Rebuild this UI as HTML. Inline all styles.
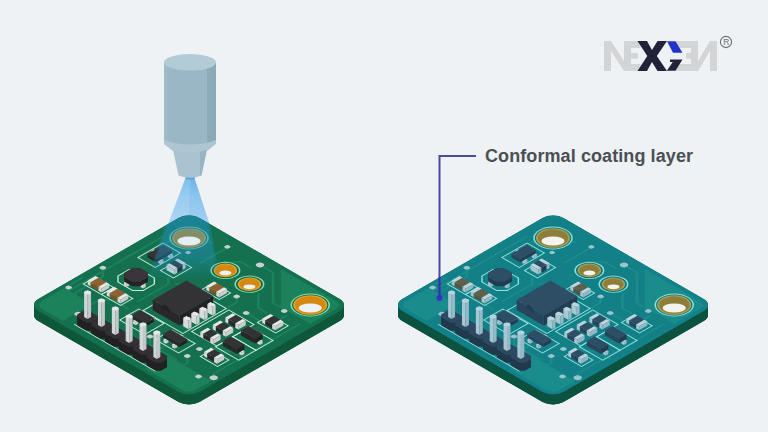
<!DOCTYPE html><html><head><meta charset="utf-8"><style>html,body{margin:0;padding:0;background:#eef2f5;}svg{display:block}</style></head>
<body><svg width="768" height="432" viewBox="0 0 768 432">
<rect width="768" height="432" fill="#eef2f5"/>

<defs>
<linearGradient id="spr" x1="0" y1="0" x2="0" y2="1">
<stop offset="0" stop-color="#6db5e8"/><stop offset="0.35" stop-color="#8cc5ee"/><stop offset="1" stop-color="#a6d2f2"/></linearGradient>
<linearGradient id="cyl" x1="0" y1="0" x2="1" y2="0">
<stop offset="0" stop-color="#a1bdcb"/><stop offset="0.1" stop-color="#9ab7c6"/><stop offset="0.83" stop-color="#9ab7c6"/><stop offset="0.835" stop-color="#8babb9"/><stop offset="1" stop-color="#89a9b7"/></linearGradient>
<linearGradient id="tap" x1="0" y1="0" x2="1" y2="0">
<stop offset="0" stop-color="#a9c4d0"/><stop offset="0.78" stop-color="#a9c4d0"/><stop offset="0.785" stop-color="#97b5c2"/><stop offset="1" stop-color="#97b5c2"/></linearGradient>
</defs>
<polygon points="185.5,178 194.5,178 211.5,230 165.8,230" fill="url(#spr)"/>
<polygon points="185.5,178 190,178 188.5,230 165.8,230" fill="#ffffff" opacity="0.12"/>
<rect x="185.5" y="177" width="9" height="2.5" fill="#5ca6de"/>
<path d="M164,62 L164,141 Q190,150 216,141 L216,62 Z" fill="url(#cyl)"/>
<path d="M164,140 Q190,149 216,140 L216,144 L207,151 Q190,157 173,151 L164,144 Z" fill="#adc6d2"/>
<path d="M173,150 Q190,155 207,150 L201.5,175.5 Q190,180 178.5,175.5 Z" fill="url(#tap)"/>
<ellipse cx="190" cy="62.3" rx="26" ry="8.3" fill="#b3cbd7"/>

<g transform="matrix(0.8660254,0.5,-0.8660254,0.5,189,212)" fill="#116240"><rect width="186" height="186" rx="12" transform="translate(0,0)"/><rect width="186" height="186" rx="12" transform="translate(1,1)"/><rect width="186" height="186" rx="12" transform="translate(2,2)"/><rect width="186" height="186" rx="12" transform="translate(3,3)"/><rect width="186" height="186" rx="12" transform="translate(4,4)"/><rect width="186" height="186" rx="12" transform="translate(5,5)"/><rect width="186" height="186" rx="12" transform="translate(6,6)"/><rect width="186" height="186" rx="12" transform="translate(7,7)"/><rect width="186" height="186" rx="12" transform="translate(8,8)"/><rect width="186" height="186" rx="12" transform="translate(9,9)"/><rect width="186" height="186" rx="12" transform="translate(10,10)"/></g><g transform="matrix(0.8660254,0.5,-0.8660254,0.5,189,212)" fill="#0e5739"><rect width="186" height="186" rx="12" transform="translate(5,5)"/><rect width="186" height="186" rx="12" transform="translate(6,6)"/><rect width="186" height="186" rx="12" transform="translate(7,7)"/><rect width="186" height="186" rx="12" transform="translate(8,8)"/><rect width="186" height="186" rx="12" transform="translate(9,9)"/><rect width="186" height="186" rx="12" transform="translate(10,10)"/></g><g transform="matrix(0.8660254,0.5,-0.8660254,0.5,189,212)"><rect width="186" height="186" rx="12" fill="#14714f"/><rect x="4" y="4" width="178" height="178" rx="9" fill="#14704f"/></g><g transform="matrix(0.8660254,0.5,-0.8660254,0.5,189,212)"><path d="M4,148 L36,148 L36,182 L13,182 Q4,182 4,173 Z" fill="#1c825b"/><path d="M132,156 L182,156 L182,173 Q182,182 173,182 L132,182 Z" fill="#1c825b"/><path d="M110,4 L173,4 Q182,4 182,13 L182,42 L148,42 Z" fill="#1c825b"/><path d="M9.5,40 L9.5,154 L22,167 L42,167" fill="none" stroke="#1c825b" stroke-width="2.2" stroke-linejoin="round" stroke-linecap="round"/><path d="M57.6,12.4 L57.6,44" fill="none" stroke="#1c825b" stroke-width="2.2" stroke-linejoin="round" stroke-linecap="round"/><path d="M94,12 L109,12 L139.5,42.5 L154,42.5" fill="none" stroke="#1c825b" stroke-width="2.2" stroke-linejoin="round" stroke-linecap="round"/><path d="M6,105.5 L15,114.5 L15,146 L22,153 L40,153" fill="none" stroke="#1c825b" stroke-width="2.2" stroke-linejoin="round" stroke-linecap="round"/><path d="M18,44 L18,30 L30,18 L44,18" fill="none" stroke="#1c825b" stroke-width="2.2" stroke-linejoin="round" stroke-linecap="round"/><path d="M112,57 L118,63 L118,76" fill="none" stroke="#1c825b" stroke-width="2.2" stroke-linejoin="round" stroke-linecap="round"/><path d="M134,68 L150,68 L160,58 L160,48" fill="none" stroke="#1c825b" stroke-width="2.2" stroke-linejoin="round" stroke-linecap="round"/><path d="M143,145 L150,152 L150,168" fill="none" stroke="#1c825b" stroke-width="2.2" stroke-linejoin="round" stroke-linecap="round"/><path d="M102,147 L110,155 L140,155" fill="none" stroke="#1c825b" stroke-width="2.2" stroke-linejoin="round" stroke-linecap="round"/><path d="M180,151.5 L176,147.5 L176,48" fill="none" stroke="#1c825b" stroke-width="2.2" stroke-linejoin="round" stroke-linecap="round"/><path d="M64,80 L70,74 L84,74" fill="none" stroke="#1c825b" stroke-width="2.2" stroke-linejoin="round" stroke-linecap="round"/><path d="M54,78 L60,84 L60,118" fill="none" stroke="#1c825b" stroke-width="2.2" stroke-linejoin="round" stroke-linecap="round"/><path d="M4,128 L4,140" fill="none" stroke="#1c825b" stroke-width="2.2" stroke-linejoin="round" stroke-linecap="round"/><path d="M36,150 L36,140 L44,132 L62,132" fill="none" stroke="#1c825b" stroke-width="2.2" stroke-linejoin="round" stroke-linecap="round"/><path d="M120,148 L120,160 L126,166 L146,166" fill="none" stroke="#1c825b" stroke-width="2.2" stroke-linejoin="round" stroke-linecap="round"/><path d="M148,122 L156,122 L164,114 L180,114" fill="none" stroke="#1c825b" stroke-width="2.2" stroke-linejoin="round" stroke-linecap="round"/><path d="M70,30 L80,20 L92,20" fill="none" stroke="#1c825b" stroke-width="2.2" stroke-linejoin="round" stroke-linecap="round"/><path d="M122,42 L136,56 L146,56" fill="none" stroke="#1c825b" stroke-width="2.2" stroke-linejoin="round" stroke-linecap="round"/></g><g transform="matrix(0.8660254,0.5,-0.8660254,0.5,189,212)"><g fill="none" stroke="#c6eed9" stroke-width="1.1"><rect x="16" y="46" width="20" height="29"/><rect x="42" y="54" width="15" height="21"/><polygon points="29,86 46,86 52,92 52,105 46,111 29,111 23,105 23,92"/><rect x="11" y="119" width="21" height="14"/><rect x="32" y="119" width="22" height="14"/><rect x="68" y="126" width="29" height="22"/><rect x="108" y="128" width="27" height="19"/><rect x="151" y="125" width="20" height="13"/><rect x="150" y="56.5" width="21" height="14.5"/><rect x="150" y="80" width="27" height="19.5"/><rect x="150" y="99.5" width="27" height="20.0"/><rect x="121" y="75" width="29" height="43"/><rect x="72" y="75" width="46" height="50"/><rect x="85" y="57" width="20" height="13"/><polyline points="46,178.6 140,178.6"/></g></g><g transform="matrix(0.8660254,0.5,-0.8660254,0.5,189,212)"><g fill="#c9d0d3"><circle cx="6" cy="105.5" r="2.6"/><circle cx="94" cy="12" r="3.3"/><circle cx="57" cy="12.7" r="2.4"/><circle cx="40" cy="41" r="2.2"/><circle cx="112" cy="57" r="2.6"/><circle cx="134" cy="68" r="2.6"/><circle cx="154" cy="44" r="2.6"/><circle cx="102" cy="147" r="2.6"/><circle cx="143" cy="131" r="2.6"/><circle cx="143" cy="145" r="2.6"/><circle cx="170" cy="159" r="2.6"/><circle cx="180" cy="151.5" r="3.3"/><circle cx="6" cy="145" r="2.6"/><circle cx="38" cy="166" r="3"/></g></g><g transform="matrix(0.8660254,0.5,-0.8660254,0.5,189,212)"><circle cx="26" cy="26" r="15.5" fill="#13633f" stroke="#86dcb6" stroke-width="1.3"/><circle cx="26" cy="26" r="13.9" fill="#e8a126"/><circle cx="26" cy="26" r="12.4" fill="#d48a12"/></g><g transform="matrix(0.8660254,0.5,-0.8660254,0.5,189,212)"><circle cx="163" cy="23" r="15.5" fill="#13633f" stroke="#86dcb6" stroke-width="1.3"/><circle cx="163" cy="23" r="13.9" fill="#e8a126"/><circle cx="163" cy="23" r="12.4" fill="#d48a12"/></g><ellipse cx="310.24" cy="308" rx="11.6" ry="4.6" fill="#eef2f5"/><g transform="matrix(0.8660254,0.5,-0.8660254,0.5,189,212)"><circle cx="79.4" cy="37.4" r="11.6" fill="#13633f" stroke="#86dcb6" stroke-width="1.3"/><circle cx="79.4" cy="37.4" r="9.6" fill="#e8a126"/><circle cx="79.4" cy="37.4" r="8.2" fill="#d48a12"/></g><ellipse cx="225.37" cy="273" rx="6" ry="2.4" fill="#eef2f5"/><g transform="matrix(0.8660254,0.5,-0.8660254,0.5,189,212)"><circle cx="107.1" cy="37.3" r="11.6" fill="#13633f" stroke="#86dcb6" stroke-width="1.3"/><circle cx="107.1" cy="37.3" r="9.6" fill="#e8a126"/><circle cx="107.1" cy="37.3" r="8.2" fill="#d48a12"/></g><ellipse cx="249.45" cy="286.8" rx="6" ry="2.4" fill="#eef2f5"/><polygon points="172.98,254.25 170.38,255.75 170.38,258.75 172.98,257.25" fill="#c9cdcd" /><polygon points="167.78,254.25 170.38,255.75 170.38,258.75 167.78,257.25" fill="#d8dbdb" /><polygon points="170.38,252.75 172.98,254.25 170.38,255.75 167.78,254.25" fill="#e6e8e8" /><polygon points="163.45,259.75 160.85,261.25 160.85,264.25 163.45,262.75" fill="#c9cdcd" /><polygon points="158.26,259.75 160.85,261.25 160.85,264.25 158.26,262.75" fill="#d8dbdb" /><polygon points="160.85,258.25 163.45,259.75 160.85,261.25 158.26,259.75" fill="#e6e8e8" /><polygon points="156.52,250.75 153.93,252.25 153.93,255.25 156.52,253.75" fill="#c9cdcd" /><polygon points="151.33,250.75 153.93,252.25 153.93,255.25 151.33,253.75" fill="#d8dbdb" /><polygon points="153.93,249.25 156.52,250.75 153.93,252.25 151.33,250.75" fill="#e6e8e8" /><polygon points="171.68,250 156.09,259 156.09,262.5 171.68,253.5" fill="#222225" /><polygon points="147.43,254 156.09,259 156.09,262.5 147.43,257.5" fill="#28282b" /><polygon points="163.02,245 171.68,250 156.09,259 147.43,254" fill="#333336" /><polygon points="185.54,263 182.5,264.75 182.5,269.75 185.54,268" fill="#c9cdcd" /><polygon points="174.71,260.25 182.5,264.75 182.5,269.75 174.71,265.25" fill="#d8dbdb" /><polygon points="177.74,258.5 185.54,263 182.5,264.75 174.71,260.25" fill="#e6e8e8" /><polygon points="182.5,264.75 177.31,267.75 177.31,272.75 182.5,269.75" fill="#222225" /><polygon points="169.51,263.25 177.31,267.75 177.31,272.75 169.51,268.25" fill="#28282b" /><polygon points="174.71,260.25 182.5,264.75 177.31,267.75 169.51,263.25" fill="#333336" /><polygon points="177.31,267.75 174.28,269.5 174.28,274.5 177.31,272.75" fill="#c9cdcd" /><polygon points="166.48,265 174.28,269.5 174.28,274.5 166.48,270" fill="#d8dbdb" /><polygon points="169.51,263.25 177.31,267.75 174.28,269.5 166.48,265" fill="#e6e8e8" /><polygon points="98.5,277.75 90.71,282.25 90.71,286.25 98.5,281.75" fill="#c9cdcd" /><polygon points="87.68,280.5 90.71,282.25 90.71,286.25 87.68,284.5" fill="#d8dbdb" /><polygon points="95.47,276 98.5,277.75 90.71,282.25 87.68,280.5" fill="#e6e8e8" /><polygon points="106.29,282.25 98.5,286.75 98.5,290.75 106.29,286.25" fill="#6e4a22" /><polygon points="90.71,282.25 98.5,286.75 98.5,290.75 90.71,286.25" fill="#7a5428" /><polygon points="98.5,277.75 106.29,282.25 98.5,286.75 90.71,282.25" fill="#8e6230" /><polygon points="109.33,284 101.53,288.5 101.53,292.5 109.33,288" fill="#c9cdcd" /><polygon points="98.5,286.75 101.53,288.5 101.53,292.5 98.5,290.75" fill="#d8dbdb" /><polygon points="106.29,282.25 109.33,284 101.53,288.5 98.5,286.75" fill="#e6e8e8" /><polygon points="145.7,283.5 143.1,285 143.1,288.5 145.7,287" fill="#c9cdcd" /><polygon points="140.5,283.5 143.1,285 143.1,288.5 140.5,287" fill="#d8dbdb" /><polygon points="143.1,282 145.7,283.5 143.1,285 140.5,283.5" fill="#e6e8e8" /><polygon points="129.24,282 126.65,283.5 126.65,287 129.24,285.5" fill="#c9cdcd" /><polygon points="124.05,282 126.65,283.5 126.65,287 124.05,285.5" fill="#d8dbdb" /><polygon points="126.65,280.5 129.24,282 126.65,283.5 124.05,282" fill="#e6e8e8" /><polygon points="140.07,272.75 147.86,277.25 147.86,281.75 140.07,286.25 132.28,286.25 124.48,281.75 124.48,277.25 132.28,272.75" fill="#262327" /><polygon points="140.07,271.62 147.86,276.12 147.86,280.62 140.07,285.12 132.28,285.12 124.48,280.62 124.48,276.12 132.28,271.62" fill="#262327" /><polygon points="140.07,270.5 147.86,275 147.86,279.5 140.07,284 132.28,284 124.48,279.5 124.48,275 132.28,270.5" fill="#262327" /><polygon points="140.07,269.38 147.86,273.88 147.86,278.38 140.07,282.88 132.28,282.88 124.48,278.38 124.48,273.88 132.28,269.38" fill="#262327" /><polygon points="140.07,268.25 147.86,272.75 147.86,277.25 140.07,281.75 132.28,281.75 124.48,277.25 124.48,272.75 132.28,268.25" fill="#262327" /><polygon points="140.07,268.25 147.86,272.75 147.86,277.25 140.07,281.75 132.28,281.75 124.48,277.25 124.48,272.75 132.28,268.25" fill="#39353a" /><polygon points="217.15,283.25 209.35,287.75 209.35,291.75 217.15,287.25" fill="#c9cdcd" /><polygon points="206.32,286 209.35,287.75 209.35,291.75 206.32,290" fill="#d8dbdb" /><polygon points="214.11,281.5 217.15,283.25 209.35,287.75 206.32,286" fill="#e6e8e8" /><polygon points="224.07,287.25 216.28,291.75 216.28,295.75 224.07,291.25" fill="#6e4a22" /><polygon points="209.35,287.75 216.28,291.75 216.28,295.75 209.35,291.75" fill="#7a5428" /><polygon points="217.15,283.25 224.07,287.25 216.28,291.75 209.35,287.75" fill="#8e6230" /><polygon points="227.11,289 219.31,293.5 219.31,297.5 227.11,293" fill="#c9cdcd" /><polygon points="216.28,291.75 219.31,293.5 219.31,297.5 216.28,295.75" fill="#d8dbdb" /><polygon points="224.07,287.25 227.11,289 219.31,293.5 216.28,291.75" fill="#e6e8e8" /><polygon points="117.55,288.75 109.76,293.25 109.76,297.25 117.55,292.75" fill="#c9cdcd" /><polygon points="106.73,291.5 109.76,293.25 109.76,297.25 106.73,295.5" fill="#d8dbdb" /><polygon points="114.52,287 117.55,288.75 109.76,293.25 106.73,291.5" fill="#e6e8e8" /><polygon points="125.35,293.25 117.55,297.75 117.55,301.75 125.35,297.25" fill="#6e4a22" /><polygon points="109.76,293.25 117.55,297.75 117.55,301.75 109.76,297.25" fill="#7a5428" /><polygon points="117.55,288.75 125.35,293.25 117.55,297.75 109.76,293.25" fill="#8e6230" /><polygon points="128.38,295 120.58,299.5 120.58,303.5 128.38,299" fill="#c9cdcd" /><polygon points="117.55,297.75 120.58,299.5 120.58,303.5 117.55,301.75" fill="#d8dbdb" /><polygon points="125.35,293.25 128.38,295 120.58,299.5 117.55,297.75" fill="#e6e8e8" /><polygon points="213.25,296 179.47,315.5 179.47,325.5 213.25,306" fill="#222225" /><polygon points="152.63,300 179.47,315.5 179.47,325.5 152.63,310" fill="#28282b" /><polygon points="186.4,280.5 213.25,296 179.47,315.5 152.63,300" fill="#333336" /><path d="M162.45,305.65 Q165.05,302.75 169.65,309.85 L169.65,313.75 Q166.05,307.75 162.45,309.65 Z" fill="#222225"/><polygon points="215.67,305.1 212.56,306.9 212.56,315.4 215.67,313.6" fill="#c9cdcd" /><polygon points="207.36,303.9 212.56,306.9 212.56,315.4 207.36,312.4" fill="#d8dbdb" /><polygon points="210.48,302.1 215.67,305.1 212.56,306.9 207.36,303.9" fill="#e6e8e8" /><ellipse cx="211.52" cy="304.5" rx="3.1" ry="1.6" fill="#e6e8e8"/><polygon points="207.62,309.75 204.5,311.55 204.5,320.05 207.62,318.25" fill="#c9cdcd" /><polygon points="199.31,308.55 204.5,311.55 204.5,320.05 199.31,317.05" fill="#d8dbdb" /><polygon points="202.42,306.75 207.62,309.75 204.5,311.55 199.31,308.55" fill="#e6e8e8" /><ellipse cx="203.46" cy="309.15" rx="3.1" ry="1.6" fill="#e6e8e8"/><polygon points="199.57,314.4 196.45,316.2 196.45,324.7 199.57,322.9" fill="#c9cdcd" /><polygon points="191.25,313.2 196.45,316.2 196.45,324.7 191.25,321.7" fill="#d8dbdb" /><polygon points="194.37,311.4 199.57,314.4 196.45,316.2 191.25,313.2" fill="#e6e8e8" /><ellipse cx="195.41" cy="313.8" rx="3.1" ry="1.6" fill="#e6e8e8"/><polygon points="191.51,319.05 188.39,320.85 188.39,329.35 191.51,327.55" fill="#c9cdcd" /><polygon points="183.2,317.85 188.39,320.85 188.39,329.35 183.2,326.35" fill="#d8dbdb" /><polygon points="186.32,316.05 191.51,319.05 188.39,320.85 183.2,317.85" fill="#e6e8e8" /><ellipse cx="187.35" cy="318.45" rx="3.1" ry="1.6" fill="#e6e8e8"/><polygon points="138.34,320.75 135.74,322.25 135.74,325.25 138.34,323.75" fill="#c9cdcd" /><polygon points="133.14,320.75 135.74,322.25 135.74,325.25 133.14,323.75" fill="#d8dbdb" /><polygon points="135.74,319.25 138.34,320.75 135.74,322.25 133.14,320.75" fill="#e6e8e8" /><polygon points="154.79,317.25 152.19,318.75 152.19,321.75 154.79,320.25" fill="#c9cdcd" /><polygon points="149.6,317.25 152.19,318.75 152.19,321.75 149.6,320.25" fill="#d8dbdb" /><polygon points="152.19,315.75 154.79,317.25 152.19,318.75 149.6,317.25" fill="#e6e8e8" /><polygon points="154.36,318 145.7,323 145.7,326.5 154.36,321.5" fill="#222225" /><polygon points="131.84,315 145.7,323 145.7,326.5 131.84,318.5" fill="#28282b" /><polygon points="140.5,310 154.36,318 145.7,323 131.84,315" fill="#333336" /><polygon points="235.77,315 228.4,319.25 228.4,323.75 235.77,319.5" fill="#c9cdcd" /><polygon points="225.37,317.5 228.4,319.25 228.4,323.75 225.37,322" fill="#d8dbdb" /><polygon points="232.73,313.25 235.77,315 228.4,319.25 225.37,317.5" fill="#e6e8e8" /><polygon points="242.69,319 235.33,323.25 235.33,327.75 242.69,323.5" fill="#222225" /><polygon points="228.4,319.25 235.33,323.25 235.33,327.75 228.4,323.75" fill="#28282b" /><polygon points="235.77,315 242.69,319 235.33,323.25 228.4,319.25" fill="#333336" /><polygon points="245.72,320.75 238.36,325 238.36,329.5 245.72,325.25" fill="#c9cdcd" /><polygon points="235.33,323.25 238.36,325 238.36,329.5 235.33,327.75" fill="#d8dbdb" /><polygon points="242.69,319 245.72,320.75 238.36,325 235.33,323.25" fill="#e6e8e8" /><polygon points="273.44,315.75 265.21,320.5 265.21,324.5 273.44,319.75" fill="#c9cdcd" /><polygon points="262.18,318.75 265.21,320.5 265.21,324.5 262.18,322.75" fill="#d8dbdb" /><polygon points="270.41,314 273.44,315.75 265.21,320.5 262.18,318.75" fill="#e6e8e8" /><polygon points="280.37,319.75 272.14,324.5 272.14,328.5 280.37,323.75" fill="#222225" /><polygon points="265.21,320.5 272.14,324.5 272.14,328.5 265.21,324.5" fill="#28282b" /><polygon points="273.44,315.75 280.37,319.75 272.14,324.5 265.21,320.5" fill="#333336" /><polygon points="283.4,321.5 275.17,326.25 275.17,330.25 283.4,325.5" fill="#c9cdcd" /><polygon points="272.14,324.5 275.17,326.25 275.17,330.25 272.14,328.5" fill="#d8dbdb" /><polygon points="280.37,319.75 283.4,321.5 275.17,326.25 272.14,324.5" fill="#e6e8e8" /><polygon points="223.21,322.25 215.85,326.5 215.85,331 223.21,326.75" fill="#c9cdcd" /><polygon points="212.82,324.75 215.85,326.5 215.85,331 212.82,329.25" fill="#d8dbdb" /><polygon points="220.18,320.5 223.21,322.25 215.85,326.5 212.82,324.75" fill="#e6e8e8" /><polygon points="230.14,326.25 222.77,330.5 222.77,335 230.14,330.75" fill="#222225" /><polygon points="215.85,326.5 222.77,330.5 222.77,335 215.85,331" fill="#28282b" /><polygon points="223.21,322.25 230.14,326.25 222.77,330.5 215.85,326.5" fill="#333336" /><polygon points="233.17,328 225.81,332.25 225.81,336.75 233.17,332.5" fill="#c9cdcd" /><polygon points="222.77,330.5 225.81,332.25 225.81,336.75 222.77,335" fill="#d8dbdb" /><polygon points="230.14,326.25 233.17,328 225.81,332.25 222.77,330.5" fill="#e6e8e8" /><polygon points="210.65,329.5 203.29,333.75 203.29,338.25 210.65,334" fill="#c9cdcd" /><polygon points="200.26,332 203.29,333.75 203.29,338.25 200.26,336.5" fill="#d8dbdb" /><polygon points="207.62,327.75 210.65,329.5 203.29,333.75 200.26,332" fill="#e6e8e8" /><polygon points="217.58,333.5 210.22,337.75 210.22,342.25 217.58,338" fill="#222225" /><polygon points="203.29,333.75 210.22,337.75 210.22,342.25 203.29,338.25" fill="#28282b" /><polygon points="210.65,329.5 217.58,333.5 210.22,337.75 203.29,333.75" fill="#333336" /><polygon points="220.61,335.25 213.25,339.5 213.25,344 220.61,339.75" fill="#c9cdcd" /><polygon points="210.22,337.75 213.25,339.5 213.25,344 210.22,342.25" fill="#d8dbdb" /><polygon points="217.58,333.5 220.61,335.25 213.25,339.5 210.22,337.75" fill="#e6e8e8" /><polygon points="262.61,340.5 260.01,342 260.01,345 262.61,343.5" fill="#c9cdcd" /><polygon points="257.42,340.5 260.01,342 260.01,345 257.42,343.5" fill="#d8dbdb" /><polygon points="260.01,339 262.61,340.5 260.01,342 257.42,340.5" fill="#e6e8e8" /><polygon points="262.61,334 254.82,338.5 254.82,343.5 262.61,339" fill="#222225" /><polygon points="240.96,330.5 254.82,338.5 254.82,343.5 240.96,335.5" fill="#28282b" /><polygon points="248.76,326 262.61,334 254.82,338.5 240.96,330.5" fill="#333336" /><polygon points="168.65,339.25 166.05,340.75 166.05,343.75 168.65,342.25" fill="#c9cdcd" /><polygon points="163.45,339.25 166.05,340.75 166.05,343.75 163.45,342.25" fill="#d8dbdb" /><polygon points="166.05,337.75 168.65,339.25 166.05,340.75 163.45,339.25" fill="#e6e8e8" /><polygon points="177.31,344.25 174.71,345.75 174.71,348.75 177.31,347.25" fill="#c9cdcd" /><polygon points="172.11,344.25 174.71,345.75 174.71,348.75 172.11,347.25" fill="#d8dbdb" /><polygon points="174.71,342.75 177.31,344.25 174.71,345.75 172.11,344.25" fill="#e6e8e8" /><polygon points="183.37,335.75 180.77,337.25 180.77,340.25 183.37,338.75" fill="#c9cdcd" /><polygon points="178.17,335.75 180.77,337.25 180.77,340.25 178.17,338.75" fill="#d8dbdb" /><polygon points="180.77,334.25 183.37,335.75 180.77,337.25 178.17,335.75" fill="#e6e8e8" /><polygon points="187.27,339 179.47,343.5 179.47,347 187.27,342.5" fill="#222225" /><polygon points="163.02,334 179.47,343.5 179.47,347 163.02,337.5" fill="#28282b" /><polygon points="170.81,329.5 187.27,339 179.47,343.5 163.02,334" fill="#333336" /><polygon points="244.43,351 241.83,352.5 241.83,355.5 244.43,354" fill="#c9cdcd" /><polygon points="239.23,351 241.83,352.5 241.83,355.5 239.23,354" fill="#d8dbdb" /><polygon points="241.83,349.5 244.43,351 241.83,352.5 239.23,351" fill="#e6e8e8" /><polygon points="244.43,344.5 236.63,349 236.63,354 244.43,349.5" fill="#222225" /><polygon points="222.77,341 236.63,349 236.63,354 222.77,346" fill="#28282b" /><polygon points="230.57,336.5 244.43,344.5 236.63,349 222.77,341" fill="#333336" /><polygon points="214.11,349.5 207.19,353.5 207.19,358 214.11,354" fill="#c9cdcd" /><polygon points="204.16,351.75 207.19,353.5 207.19,358 204.16,356.25" fill="#d8dbdb" /><polygon points="211.08,347.75 214.11,349.5 207.19,353.5 204.16,351.75" fill="#e6e8e8" /><polygon points="221.04,353.5 214.11,357.5 214.11,362 221.04,358" fill="#222225" /><polygon points="207.19,353.5 214.11,357.5 214.11,362 207.19,358" fill="#28282b" /><polygon points="214.11,349.5 221.04,353.5 214.11,357.5 207.19,353.5" fill="#333336" /><polygon points="224.07,355.25 217.15,359.25 217.15,363.75 224.07,359.75" fill="#c9cdcd" /><polygon points="214.11,357.5 217.15,359.25 217.15,363.75 214.11,362" fill="#d8dbdb" /><polygon points="221.04,353.5 224.07,355.25 217.15,359.25 214.11,357.5" fill="#e6e8e8" /><polygon points="88.71,319.1 97.72,324.3 97.72,327.3 91.66,330.8 86.46,330.8 77.46,325.6 77.46,322.6 83.52,319.1" fill="#232124" /><polygon points="88.71,318.1 97.72,323.3 97.72,326.3 91.66,329.8 86.46,329.8 77.46,324.6 77.46,321.6 83.52,318.1" fill="#232124" /><polygon points="88.71,317.1 97.72,322.3 97.72,325.3 91.66,328.8 86.46,328.8 77.46,323.6 77.46,320.6 83.52,317.1" fill="#232124" /><polygon points="88.71,316.1 97.72,321.3 97.72,324.3 91.66,327.8 86.46,327.8 77.46,322.6 77.46,319.6 83.52,316.1" fill="#232124" /><polygon points="88.71,315.1 97.72,320.3 97.72,323.3 91.66,326.8 86.46,326.8 77.46,321.6 77.46,318.6 83.52,315.1" fill="#232124" /><polygon points="88.71,314.1 97.72,319.3 97.72,322.3 91.66,325.8 86.46,325.8 77.46,320.6 77.46,317.6 83.52,314.1" fill="#232124" /><polygon points="88.71,313.1 97.72,318.3 97.72,321.3 91.66,324.8 86.46,324.8 77.46,319.6 77.46,316.6 83.52,313.1" fill="#232124" /><polygon points="88.71,312.1 97.72,317.3 97.72,320.3 91.66,323.8 86.46,323.8 77.46,318.6 77.46,315.6 83.52,312.1" fill="#232124" /><polygon points="88.71,311.1 97.72,316.3 97.72,319.3 91.66,322.8 86.46,322.8 77.46,317.6 77.46,314.6 83.52,311.1" fill="#232124" /><polygon points="88.71,311.1 97.72,316.3 97.72,319.3 91.66,322.8 86.46,322.8 77.46,317.6 77.46,314.6 83.52,311.1" fill="#333134" /><polygon points="91.05,292.45 87.59,294.45 87.59,318.95 91.05,316.95" fill="#c3c7c9" /><polygon points="84.12,292.45 87.59,294.45 87.59,318.95 84.12,316.95" fill="#d3d6d7" /><polygon points="87.59,290.45 91.05,292.45 87.59,294.45 84.12,292.45" fill="#e4e6e7" /><ellipse cx="87.59" cy="292.45" rx="3.46" ry="2" fill="#e4e6e7"/><polygon points="102.57,327.1 111.58,332.3 111.58,335.3 105.52,338.8 100.32,338.8 91.31,333.6 91.31,330.6 97.37,327.1" fill="#232124" /><polygon points="102.57,326.1 111.58,331.3 111.58,334.3 105.52,337.8 100.32,337.8 91.31,332.6 91.31,329.6 97.37,326.1" fill="#232124" /><polygon points="102.57,325.1 111.58,330.3 111.58,333.3 105.52,336.8 100.32,336.8 91.31,331.6 91.31,328.6 97.37,325.1" fill="#232124" /><polygon points="102.57,324.1 111.58,329.3 111.58,332.3 105.52,335.8 100.32,335.8 91.31,330.6 91.31,327.6 97.37,324.1" fill="#232124" /><polygon points="102.57,323.1 111.58,328.3 111.58,331.3 105.52,334.8 100.32,334.8 91.31,329.6 91.31,326.6 97.37,323.1" fill="#232124" /><polygon points="102.57,322.1 111.58,327.3 111.58,330.3 105.52,333.8 100.32,333.8 91.31,328.6 91.31,325.6 97.37,322.1" fill="#232124" /><polygon points="102.57,321.1 111.58,326.3 111.58,329.3 105.52,332.8 100.32,332.8 91.31,327.6 91.31,324.6 97.37,321.1" fill="#232124" /><polygon points="102.57,320.1 111.58,325.3 111.58,328.3 105.52,331.8 100.32,331.8 91.31,326.6 91.31,323.6 97.37,320.1" fill="#232124" /><polygon points="102.57,319.1 111.58,324.3 111.58,327.3 105.52,330.8 100.32,330.8 91.31,325.6 91.31,322.6 97.37,319.1" fill="#232124" /><polygon points="102.57,319.1 111.58,324.3 111.58,327.3 105.52,330.8 100.32,330.8 91.31,325.6 91.31,322.6 97.37,319.1" fill="#333134" /><polygon points="104.91,300.45 101.44,302.45 101.44,326.95 104.91,324.95" fill="#c3c7c9" /><polygon points="97.98,300.45 101.44,302.45 101.44,326.95 97.98,324.95" fill="#d3d6d7" /><polygon points="101.44,298.45 104.91,300.45 101.44,302.45 97.98,300.45" fill="#e4e6e7" /><ellipse cx="101.44" cy="300.45" rx="3.46" ry="2" fill="#e4e6e7"/><polygon points="116.43,335.1 125.43,340.3 125.43,343.3 119.37,346.8 114.18,346.8 105.17,341.6 105.17,338.6 111.23,335.1" fill="#232124" /><polygon points="116.43,334.1 125.43,339.3 125.43,342.3 119.37,345.8 114.18,345.8 105.17,340.6 105.17,337.6 111.23,334.1" fill="#232124" /><polygon points="116.43,333.1 125.43,338.3 125.43,341.3 119.37,344.8 114.18,344.8 105.17,339.6 105.17,336.6 111.23,333.1" fill="#232124" /><polygon points="116.43,332.1 125.43,337.3 125.43,340.3 119.37,343.8 114.18,343.8 105.17,338.6 105.17,335.6 111.23,332.1" fill="#232124" /><polygon points="116.43,331.1 125.43,336.3 125.43,339.3 119.37,342.8 114.18,342.8 105.17,337.6 105.17,334.6 111.23,331.1" fill="#232124" /><polygon points="116.43,330.1 125.43,335.3 125.43,338.3 119.37,341.8 114.18,341.8 105.17,336.6 105.17,333.6 111.23,330.1" fill="#232124" /><polygon points="116.43,329.1 125.43,334.3 125.43,337.3 119.37,340.8 114.18,340.8 105.17,335.6 105.17,332.6 111.23,329.1" fill="#232124" /><polygon points="116.43,328.1 125.43,333.3 125.43,336.3 119.37,339.8 114.18,339.8 105.17,334.6 105.17,331.6 111.23,328.1" fill="#232124" /><polygon points="116.43,327.1 125.43,332.3 125.43,335.3 119.37,338.8 114.18,338.8 105.17,333.6 105.17,330.6 111.23,327.1" fill="#232124" /><polygon points="116.43,327.1 125.43,332.3 125.43,335.3 119.37,338.8 114.18,338.8 105.17,333.6 105.17,330.6 111.23,327.1" fill="#333134" /><polygon points="118.77,308.45 115.3,310.45 115.3,334.95 118.77,332.95" fill="#c3c7c9" /><polygon points="111.84,308.45 115.3,310.45 115.3,334.95 111.84,332.95" fill="#d3d6d7" /><polygon points="115.3,306.45 118.77,308.45 115.3,310.45 111.84,308.45" fill="#e4e6e7" /><ellipse cx="115.3" cy="308.45" rx="3.46" ry="2" fill="#e4e6e7"/><polygon points="130.28,343.1 139.29,348.3 139.29,351.3 133.23,354.8 128.03,354.8 119.03,349.6 119.03,346.6 125.09,343.1" fill="#232124" /><polygon points="130.28,342.1 139.29,347.3 139.29,350.3 133.23,353.8 128.03,353.8 119.03,348.6 119.03,345.6 125.09,342.1" fill="#232124" /><polygon points="130.28,341.1 139.29,346.3 139.29,349.3 133.23,352.8 128.03,352.8 119.03,347.6 119.03,344.6 125.09,341.1" fill="#232124" /><polygon points="130.28,340.1 139.29,345.3 139.29,348.3 133.23,351.8 128.03,351.8 119.03,346.6 119.03,343.6 125.09,340.1" fill="#232124" /><polygon points="130.28,339.1 139.29,344.3 139.29,347.3 133.23,350.8 128.03,350.8 119.03,345.6 119.03,342.6 125.09,339.1" fill="#232124" /><polygon points="130.28,338.1 139.29,343.3 139.29,346.3 133.23,349.8 128.03,349.8 119.03,344.6 119.03,341.6 125.09,338.1" fill="#232124" /><polygon points="130.28,337.1 139.29,342.3 139.29,345.3 133.23,348.8 128.03,348.8 119.03,343.6 119.03,340.6 125.09,337.1" fill="#232124" /><polygon points="130.28,336.1 139.29,341.3 139.29,344.3 133.23,347.8 128.03,347.8 119.03,342.6 119.03,339.6 125.09,336.1" fill="#232124" /><polygon points="130.28,335.1 139.29,340.3 139.29,343.3 133.23,346.8 128.03,346.8 119.03,341.6 119.03,338.6 125.09,335.1" fill="#232124" /><polygon points="130.28,335.1 139.29,340.3 139.29,343.3 133.23,346.8 128.03,346.8 119.03,341.6 119.03,338.6 125.09,335.1" fill="#333134" /><polygon points="132.62,316.45 129.16,318.45 129.16,342.95 132.62,340.95" fill="#c3c7c9" /><polygon points="125.69,316.45 129.16,318.45 129.16,342.95 125.69,340.95" fill="#d3d6d7" /><polygon points="129.16,314.45 132.62,316.45 129.16,318.45 125.69,316.45" fill="#e4e6e7" /><ellipse cx="129.16" cy="316.45" rx="3.46" ry="2" fill="#e4e6e7"/><polygon points="144.14,351.1 153.15,356.3 153.15,359.3 147.08,362.8 141.89,362.8 132.88,357.6 132.88,354.6 138.94,351.1" fill="#232124" /><polygon points="144.14,350.1 153.15,355.3 153.15,358.3 147.08,361.8 141.89,361.8 132.88,356.6 132.88,353.6 138.94,350.1" fill="#232124" /><polygon points="144.14,349.1 153.15,354.3 153.15,357.3 147.08,360.8 141.89,360.8 132.88,355.6 132.88,352.6 138.94,349.1" fill="#232124" /><polygon points="144.14,348.1 153.15,353.3 153.15,356.3 147.08,359.8 141.89,359.8 132.88,354.6 132.88,351.6 138.94,348.1" fill="#232124" /><polygon points="144.14,347.1 153.15,352.3 153.15,355.3 147.08,358.8 141.89,358.8 132.88,353.6 132.88,350.6 138.94,347.1" fill="#232124" /><polygon points="144.14,346.1 153.15,351.3 153.15,354.3 147.08,357.8 141.89,357.8 132.88,352.6 132.88,349.6 138.94,346.1" fill="#232124" /><polygon points="144.14,345.1 153.15,350.3 153.15,353.3 147.08,356.8 141.89,356.8 132.88,351.6 132.88,348.6 138.94,345.1" fill="#232124" /><polygon points="144.14,344.1 153.15,349.3 153.15,352.3 147.08,355.8 141.89,355.8 132.88,350.6 132.88,347.6 138.94,344.1" fill="#232124" /><polygon points="144.14,343.1 153.15,348.3 153.15,351.3 147.08,354.8 141.89,354.8 132.88,349.6 132.88,346.6 138.94,343.1" fill="#232124" /><polygon points="144.14,343.1 153.15,348.3 153.15,351.3 147.08,354.8 141.89,354.8 132.88,349.6 132.88,346.6 138.94,343.1" fill="#333134" /><polygon points="146.48,324.45 143.01,326.45 143.01,350.95 146.48,348.95" fill="#c3c7c9" /><polygon points="139.55,324.45 143.01,326.45 143.01,350.95 139.55,348.95" fill="#d3d6d7" /><polygon points="143.01,322.45 146.48,324.45 143.01,326.45 139.55,324.45" fill="#e4e6e7" /><ellipse cx="143.01" cy="324.45" rx="3.46" ry="2" fill="#e4e6e7"/><polygon points="158,359.1 167,364.3 167,367.3 160.94,370.8 155.74,370.8 146.74,365.6 146.74,362.6 152.8,359.1" fill="#232124" /><polygon points="158,358.1 167,363.3 167,366.3 160.94,369.8 155.74,369.8 146.74,364.6 146.74,361.6 152.8,358.1" fill="#232124" /><polygon points="158,357.1 167,362.3 167,365.3 160.94,368.8 155.74,368.8 146.74,363.6 146.74,360.6 152.8,357.1" fill="#232124" /><polygon points="158,356.1 167,361.3 167,364.3 160.94,367.8 155.74,367.8 146.74,362.6 146.74,359.6 152.8,356.1" fill="#232124" /><polygon points="158,355.1 167,360.3 167,363.3 160.94,366.8 155.74,366.8 146.74,361.6 146.74,358.6 152.8,355.1" fill="#232124" /><polygon points="158,354.1 167,359.3 167,362.3 160.94,365.8 155.74,365.8 146.74,360.6 146.74,357.6 152.8,354.1" fill="#232124" /><polygon points="158,353.1 167,358.3 167,361.3 160.94,364.8 155.74,364.8 146.74,359.6 146.74,356.6 152.8,353.1" fill="#232124" /><polygon points="158,352.1 167,357.3 167,360.3 160.94,363.8 155.74,363.8 146.74,358.6 146.74,355.6 152.8,352.1" fill="#232124" /><polygon points="158,351.1 167,356.3 167,359.3 160.94,362.8 155.74,362.8 146.74,357.6 146.74,354.6 152.8,351.1" fill="#232124" /><polygon points="158,351.1 167,356.3 167,359.3 160.94,362.8 155.74,362.8 146.74,357.6 146.74,354.6 152.8,351.1" fill="#333134" /><polygon points="160.33,332.45 156.87,334.45 156.87,358.95 160.33,356.95" fill="#c3c7c9" /><polygon points="153.41,332.45 156.87,334.45 156.87,358.95 153.41,356.95" fill="#d3d6d7" /><polygon points="156.87,330.45 160.33,332.45 156.87,334.45 153.41,332.45" fill="#e4e6e7" /><ellipse cx="156.87" cy="332.45" rx="3.46" ry="2" fill="#e4e6e7"/><defs><linearGradient id="tint" x1="0" y1="0" x2="0" y2="1">
<stop offset="0" stop-color="#2290d4" stop-opacity="0.62"/><stop offset="0.35" stop-color="#2294cc" stop-opacity="0.48"/><stop offset="0.7" stop-color="#2294cc" stop-opacity="0.4"/><stop offset="1" stop-color="#2294cc" stop-opacity="0"/></linearGradient>
<filter id="tblur" x="-20%" y="-20%" width="140%" height="140%"><feGaussianBlur stdDeviation="1.3"/></filter><clipPath id="bclip"><rect width="186" height="186" rx="12" transform="matrix(0.8660254,0.5,-0.8660254,0.5,189,212)"/></clipPath></defs>
<g clip-path="url(#bclip)"><polygon points="172,206 206,206 219.5,280 148,280" fill="url(#tint)" filter="url(#tblur)"/></g><ellipse cx="189" cy="241" rx="11.6" ry="4.6" fill="#e4eef4"/>
<g transform="matrix(0.8660254,0.5,-0.8660254,0.5,553,212)" fill="#0d5c46"><rect width="186" height="186" rx="12" transform="translate(0,0)"/><rect width="186" height="186" rx="12" transform="translate(1,1)"/><rect width="186" height="186" rx="12" transform="translate(2,2)"/><rect width="186" height="186" rx="12" transform="translate(3,3)"/><rect width="186" height="186" rx="12" transform="translate(4,4)"/><rect width="186" height="186" rx="12" transform="translate(5,5)"/><rect width="186" height="186" rx="12" transform="translate(6,6)"/><rect width="186" height="186" rx="12" transform="translate(7,7)"/><rect width="186" height="186" rx="12" transform="translate(8,8)"/><rect width="186" height="186" rx="12" transform="translate(9,9)"/><rect width="186" height="186" rx="12" transform="translate(10,10)"/></g><g transform="matrix(0.8660254,0.5,-0.8660254,0.5,553,212)" fill="#0b5240"><rect width="186" height="186" rx="12" transform="translate(5,5)"/><rect width="186" height="186" rx="12" transform="translate(6,6)"/><rect width="186" height="186" rx="12" transform="translate(7,7)"/><rect width="186" height="186" rx="12" transform="translate(8,8)"/><rect width="186" height="186" rx="12" transform="translate(9,9)"/><rect width="186" height="186" rx="12" transform="translate(10,10)"/></g><g transform="matrix(0.8660254,0.5,-0.8660254,0.5,553,212)"><rect width="186" height="186" rx="12" fill="#138189"/><rect x="4" y="4" width="178" height="178" rx="9" fill="#137f87"/></g><g transform="matrix(0.8660254,0.5,-0.8660254,0.5,553,212)"><path d="M4,148 L36,148 L36,182 L13,182 Q4,182 4,173 Z" fill="#1a8c8c"/><path d="M132,156 L182,156 L182,173 Q182,182 173,182 L132,182 Z" fill="#1a8c8c"/><path d="M110,4 L173,4 Q182,4 182,13 L182,42 L148,42 Z" fill="#1a8c8c"/><path d="M9.5,40 L9.5,154 L22,167 L42,167" fill="none" stroke="#1a8c8c" stroke-width="2.2" stroke-linejoin="round" stroke-linecap="round"/><path d="M57.6,12.4 L57.6,44" fill="none" stroke="#1a8c8c" stroke-width="2.2" stroke-linejoin="round" stroke-linecap="round"/><path d="M94,12 L109,12 L139.5,42.5 L154,42.5" fill="none" stroke="#1a8c8c" stroke-width="2.2" stroke-linejoin="round" stroke-linecap="round"/><path d="M6,105.5 L15,114.5 L15,146 L22,153 L40,153" fill="none" stroke="#1a8c8c" stroke-width="2.2" stroke-linejoin="round" stroke-linecap="round"/><path d="M18,44 L18,30 L30,18 L44,18" fill="none" stroke="#1a8c8c" stroke-width="2.2" stroke-linejoin="round" stroke-linecap="round"/><path d="M112,57 L118,63 L118,76" fill="none" stroke="#1a8c8c" stroke-width="2.2" stroke-linejoin="round" stroke-linecap="round"/><path d="M134,68 L150,68 L160,58 L160,48" fill="none" stroke="#1a8c8c" stroke-width="2.2" stroke-linejoin="round" stroke-linecap="round"/><path d="M143,145 L150,152 L150,168" fill="none" stroke="#1a8c8c" stroke-width="2.2" stroke-linejoin="round" stroke-linecap="round"/><path d="M102,147 L110,155 L140,155" fill="none" stroke="#1a8c8c" stroke-width="2.2" stroke-linejoin="round" stroke-linecap="round"/><path d="M180,151.5 L176,147.5 L176,48" fill="none" stroke="#1a8c8c" stroke-width="2.2" stroke-linejoin="round" stroke-linecap="round"/><path d="M64,80 L70,74 L84,74" fill="none" stroke="#1a8c8c" stroke-width="2.2" stroke-linejoin="round" stroke-linecap="round"/><path d="M54,78 L60,84 L60,118" fill="none" stroke="#1a8c8c" stroke-width="2.2" stroke-linejoin="round" stroke-linecap="round"/><path d="M4,128 L4,140" fill="none" stroke="#1a8c8c" stroke-width="2.2" stroke-linejoin="round" stroke-linecap="round"/><path d="M36,150 L36,140 L44,132 L62,132" fill="none" stroke="#1a8c8c" stroke-width="2.2" stroke-linejoin="round" stroke-linecap="round"/><path d="M120,148 L120,160 L126,166 L146,166" fill="none" stroke="#1a8c8c" stroke-width="2.2" stroke-linejoin="round" stroke-linecap="round"/><path d="M148,122 L156,122 L164,114 L180,114" fill="none" stroke="#1a8c8c" stroke-width="2.2" stroke-linejoin="round" stroke-linecap="round"/><path d="M70,30 L80,20 L92,20" fill="none" stroke="#1a8c8c" stroke-width="2.2" stroke-linejoin="round" stroke-linecap="round"/><path d="M122,42 L136,56 L146,56" fill="none" stroke="#1a8c8c" stroke-width="2.2" stroke-linejoin="round" stroke-linecap="round"/></g><g transform="matrix(0.8660254,0.5,-0.8660254,0.5,553,212)"><g fill="none" stroke="#8ee3dc" stroke-width="1.1"><rect x="16" y="46" width="20" height="29"/><rect x="42" y="54" width="15" height="21"/><polygon points="29,86 46,86 52,92 52,105 46,111 29,111 23,105 23,92"/><rect x="11" y="119" width="21" height="14"/><rect x="32" y="119" width="22" height="14"/><rect x="68" y="126" width="29" height="22"/><rect x="108" y="128" width="27" height="19"/><rect x="151" y="125" width="20" height="13"/><rect x="150" y="56.5" width="21" height="14.5"/><rect x="150" y="80" width="27" height="19.5"/><rect x="150" y="99.5" width="27" height="20.0"/><rect x="121" y="75" width="29" height="43"/><rect x="72" y="75" width="46" height="50"/><rect x="85" y="57" width="20" height="13"/><polyline points="46,178.6 140,178.6"/></g></g><g transform="matrix(0.8660254,0.5,-0.8660254,0.5,553,212)"><g fill="#98c4d0"><circle cx="6" cy="105.5" r="2.6"/><circle cx="94" cy="12" r="3.3"/><circle cx="57" cy="12.7" r="2.4"/><circle cx="40" cy="41" r="2.2"/><circle cx="112" cy="57" r="2.6"/><circle cx="134" cy="68" r="2.6"/><circle cx="154" cy="44" r="2.6"/><circle cx="102" cy="147" r="2.6"/><circle cx="143" cy="131" r="2.6"/><circle cx="143" cy="145" r="2.6"/><circle cx="170" cy="159" r="2.6"/><circle cx="180" cy="151.5" r="3.3"/><circle cx="6" cy="145" r="2.6"/><circle cx="38" cy="166" r="3"/></g></g><g transform="matrix(0.8660254,0.5,-0.8660254,0.5,553,212)"><circle cx="26" cy="26" r="15.5" fill="#117676" stroke="#86e0dc" stroke-width="1.3"/><circle cx="26" cy="26" r="13.9" fill="#b09c4c"/><circle cx="26" cy="26" r="12.4" fill="#8e7e3c"/></g><ellipse cx="553" cy="241" rx="11.6" ry="4.6" fill="#f4f4ee"/><g transform="matrix(0.8660254,0.5,-0.8660254,0.5,553,212)"><circle cx="163" cy="23" r="15.5" fill="#117676" stroke="#86e0dc" stroke-width="1.3"/><circle cx="163" cy="23" r="13.9" fill="#b09c4c"/><circle cx="163" cy="23" r="12.4" fill="#8e7e3c"/></g><ellipse cx="674.24" cy="308" rx="11.6" ry="4.6" fill="#f4f4ee"/><g transform="matrix(0.8660254,0.5,-0.8660254,0.5,553,212)"><circle cx="79.4" cy="37.4" r="11.6" fill="#117676" stroke="#86e0dc" stroke-width="1.3"/><circle cx="79.4" cy="37.4" r="9.6" fill="#b09c4c"/><circle cx="79.4" cy="37.4" r="8.2" fill="#8e7e3c"/></g><ellipse cx="589.37" cy="273" rx="6" ry="2.4" fill="#f4f4ee"/><g transform="matrix(0.8660254,0.5,-0.8660254,0.5,553,212)"><circle cx="107.1" cy="37.3" r="11.6" fill="#117676" stroke="#86e0dc" stroke-width="1.3"/><circle cx="107.1" cy="37.3" r="9.6" fill="#b09c4c"/><circle cx="107.1" cy="37.3" r="8.2" fill="#8e7e3c"/></g><ellipse cx="613.45" cy="286.8" rx="6" ry="2.4" fill="#f4f4ee"/><polygon points="536.98,254.25 534.38,255.75 534.38,258.75 536.98,257.25" fill="#93b8c4" /><polygon points="531.78,254.25 534.38,255.75 534.38,258.75 531.78,257.25" fill="#a6c6d0" /><polygon points="534.38,252.75 536.98,254.25 534.38,255.75 531.78,254.25" fill="#b9d5de" /><polygon points="527.45,259.75 524.85,261.25 524.85,264.25 527.45,262.75" fill="#93b8c4" /><polygon points="522.26,259.75 524.85,261.25 524.85,264.25 522.26,262.75" fill="#a6c6d0" /><polygon points="524.85,258.25 527.45,259.75 524.85,261.25 522.26,259.75" fill="#b9d5de" /><polygon points="520.52,250.75 517.93,252.25 517.93,255.25 520.52,253.75" fill="#93b8c4" /><polygon points="515.33,250.75 517.93,252.25 517.93,255.25 515.33,253.75" fill="#a6c6d0" /><polygon points="517.93,249.25 520.52,250.75 517.93,252.25 515.33,250.75" fill="#b9d5de" /><polygon points="535.68,250 520.09,259 520.09,262.5 535.68,253.5" fill="#223d52" /><polygon points="511.43,254 520.09,259 520.09,262.5 511.43,257.5" fill="#28455c" /><polygon points="527.02,245 535.68,250 520.09,259 511.43,254" fill="#2e4e66" /><polygon points="549.54,263 546.5,264.75 546.5,269.75 549.54,268" fill="#93b8c4" /><polygon points="538.71,260.25 546.5,264.75 546.5,269.75 538.71,265.25" fill="#a6c6d0" /><polygon points="541.74,258.5 549.54,263 546.5,264.75 538.71,260.25" fill="#b9d5de" /><polygon points="546.5,264.75 541.31,267.75 541.31,272.75 546.5,269.75" fill="#223d52" /><polygon points="533.51,263.25 541.31,267.75 541.31,272.75 533.51,268.25" fill="#28455c" /><polygon points="538.71,260.25 546.5,264.75 541.31,267.75 533.51,263.25" fill="#2e4e66" /><polygon points="541.31,267.75 538.28,269.5 538.28,274.5 541.31,272.75" fill="#93b8c4" /><polygon points="530.48,265 538.28,269.5 538.28,274.5 530.48,270" fill="#a6c6d0" /><polygon points="533.51,263.25 541.31,267.75 538.28,269.5 530.48,265" fill="#b9d5de" /><polygon points="462.5,277.75 454.71,282.25 454.71,286.25 462.5,281.75" fill="#93b8c4" /><polygon points="451.68,280.5 454.71,282.25 454.71,286.25 451.68,284.5" fill="#a6c6d0" /><polygon points="459.47,276 462.5,277.75 454.71,282.25 451.68,280.5" fill="#b9d5de" /><polygon points="470.29,282.25 462.5,286.75 462.5,290.75 470.29,286.25" fill="#4a4b3a" /><polygon points="454.71,282.25 462.5,286.75 462.5,290.75 454.71,286.25" fill="#555644" /><polygon points="462.5,277.75 470.29,282.25 462.5,286.75 454.71,282.25" fill="#5f604a" /><polygon points="473.33,284 465.53,288.5 465.53,292.5 473.33,288" fill="#93b8c4" /><polygon points="462.5,286.75 465.53,288.5 465.53,292.5 462.5,290.75" fill="#a6c6d0" /><polygon points="470.29,282.25 473.33,284 465.53,288.5 462.5,286.75" fill="#b9d5de" /><polygon points="509.7,283.5 507.1,285 507.1,288.5 509.7,287" fill="#93b8c4" /><polygon points="504.5,283.5 507.1,285 507.1,288.5 504.5,287" fill="#a6c6d0" /><polygon points="507.1,282 509.7,283.5 507.1,285 504.5,283.5" fill="#b9d5de" /><polygon points="493.24,282 490.65,283.5 490.65,287 493.24,285.5" fill="#93b8c4" /><polygon points="488.05,282 490.65,283.5 490.65,287 488.05,285.5" fill="#a6c6d0" /><polygon points="490.65,280.5 493.24,282 490.65,283.5 488.05,282" fill="#b9d5de" /><polygon points="504.07,272.75 511.86,277.25 511.86,281.75 504.07,286.25 496.28,286.25 488.48,281.75 488.48,277.25 496.28,272.75" fill="#223d52" /><polygon points="504.07,271.62 511.86,276.12 511.86,280.62 504.07,285.12 496.28,285.12 488.48,280.62 488.48,276.12 496.28,271.62" fill="#223d52" /><polygon points="504.07,270.5 511.86,275 511.86,279.5 504.07,284 496.28,284 488.48,279.5 488.48,275 496.28,270.5" fill="#223d52" /><polygon points="504.07,269.38 511.86,273.88 511.86,278.38 504.07,282.88 496.28,282.88 488.48,278.38 488.48,273.88 496.28,269.38" fill="#223d52" /><polygon points="504.07,268.25 511.86,272.75 511.86,277.25 504.07,281.75 496.28,281.75 488.48,277.25 488.48,272.75 496.28,268.25" fill="#223d52" /><polygon points="504.07,268.25 511.86,272.75 511.86,277.25 504.07,281.75 496.28,281.75 488.48,277.25 488.48,272.75 496.28,268.25" fill="#2e4e66" /><polygon points="581.15,283.25 573.35,287.75 573.35,291.75 581.15,287.25" fill="#93b8c4" /><polygon points="570.32,286 573.35,287.75 573.35,291.75 570.32,290" fill="#a6c6d0" /><polygon points="578.11,281.5 581.15,283.25 573.35,287.75 570.32,286" fill="#b9d5de" /><polygon points="588.07,287.25 580.28,291.75 580.28,295.75 588.07,291.25" fill="#4a4b3a" /><polygon points="573.35,287.75 580.28,291.75 580.28,295.75 573.35,291.75" fill="#555644" /><polygon points="581.15,283.25 588.07,287.25 580.28,291.75 573.35,287.75" fill="#5f604a" /><polygon points="591.11,289 583.31,293.5 583.31,297.5 591.11,293" fill="#93b8c4" /><polygon points="580.28,291.75 583.31,293.5 583.31,297.5 580.28,295.75" fill="#a6c6d0" /><polygon points="588.07,287.25 591.11,289 583.31,293.5 580.28,291.75" fill="#b9d5de" /><polygon points="481.55,288.75 473.76,293.25 473.76,297.25 481.55,292.75" fill="#93b8c4" /><polygon points="470.73,291.5 473.76,293.25 473.76,297.25 470.73,295.5" fill="#a6c6d0" /><polygon points="478.52,287 481.55,288.75 473.76,293.25 470.73,291.5" fill="#b9d5de" /><polygon points="489.35,293.25 481.55,297.75 481.55,301.75 489.35,297.25" fill="#4a4b3a" /><polygon points="473.76,293.25 481.55,297.75 481.55,301.75 473.76,297.25" fill="#555644" /><polygon points="481.55,288.75 489.35,293.25 481.55,297.75 473.76,293.25" fill="#5f604a" /><polygon points="492.38,295 484.58,299.5 484.58,303.5 492.38,299" fill="#93b8c4" /><polygon points="481.55,297.75 484.58,299.5 484.58,303.5 481.55,301.75" fill="#a6c6d0" /><polygon points="489.35,293.25 492.38,295 484.58,299.5 481.55,297.75" fill="#b9d5de" /><polygon points="577.25,296 543.47,315.5 543.47,325.5 577.25,306" fill="#223d52" /><polygon points="516.63,300 543.47,315.5 543.47,325.5 516.63,310" fill="#28455c" /><polygon points="550.4,280.5 577.25,296 543.47,315.5 516.63,300" fill="#2e4e66" /><path d="M526.45,305.65 Q529.05,302.75 533.65,309.85 L533.65,313.75 Q530.05,307.75 526.45,309.65 Z" fill="#223d52"/><polygon points="579.67,305.1 576.56,306.9 576.56,315.4 579.67,313.6" fill="#93b8c4" /><polygon points="571.36,303.9 576.56,306.9 576.56,315.4 571.36,312.4" fill="#a6c6d0" /><polygon points="574.48,302.1 579.67,305.1 576.56,306.9 571.36,303.9" fill="#b9d5de" /><ellipse cx="575.52" cy="304.5" rx="3.1" ry="1.6" fill="#b9d5de"/><polygon points="571.62,309.75 568.5,311.55 568.5,320.05 571.62,318.25" fill="#93b8c4" /><polygon points="563.31,308.55 568.5,311.55 568.5,320.05 563.31,317.05" fill="#a6c6d0" /><polygon points="566.42,306.75 571.62,309.75 568.5,311.55 563.31,308.55" fill="#b9d5de" /><ellipse cx="567.46" cy="309.15" rx="3.1" ry="1.6" fill="#b9d5de"/><polygon points="563.57,314.4 560.45,316.2 560.45,324.7 563.57,322.9" fill="#93b8c4" /><polygon points="555.25,313.2 560.45,316.2 560.45,324.7 555.25,321.7" fill="#a6c6d0" /><polygon points="558.37,311.4 563.57,314.4 560.45,316.2 555.25,313.2" fill="#b9d5de" /><ellipse cx="559.41" cy="313.8" rx="3.1" ry="1.6" fill="#b9d5de"/><polygon points="555.51,319.05 552.39,320.85 552.39,329.35 555.51,327.55" fill="#93b8c4" /><polygon points="547.2,317.85 552.39,320.85 552.39,329.35 547.2,326.35" fill="#a6c6d0" /><polygon points="550.32,316.05 555.51,319.05 552.39,320.85 547.2,317.85" fill="#b9d5de" /><ellipse cx="551.35" cy="318.45" rx="3.1" ry="1.6" fill="#b9d5de"/><polygon points="502.34,320.75 499.74,322.25 499.74,325.25 502.34,323.75" fill="#93b8c4" /><polygon points="497.14,320.75 499.74,322.25 499.74,325.25 497.14,323.75" fill="#a6c6d0" /><polygon points="499.74,319.25 502.34,320.75 499.74,322.25 497.14,320.75" fill="#b9d5de" /><polygon points="518.79,317.25 516.19,318.75 516.19,321.75 518.79,320.25" fill="#93b8c4" /><polygon points="513.6,317.25 516.19,318.75 516.19,321.75 513.6,320.25" fill="#a6c6d0" /><polygon points="516.19,315.75 518.79,317.25 516.19,318.75 513.6,317.25" fill="#b9d5de" /><polygon points="518.36,318 509.7,323 509.7,326.5 518.36,321.5" fill="#223d52" /><polygon points="495.84,315 509.7,323 509.7,326.5 495.84,318.5" fill="#28455c" /><polygon points="504.5,310 518.36,318 509.7,323 495.84,315" fill="#2e4e66" /><polygon points="599.77,315 592.4,319.25 592.4,323.75 599.77,319.5" fill="#93b8c4" /><polygon points="589.37,317.5 592.4,319.25 592.4,323.75 589.37,322" fill="#a6c6d0" /><polygon points="596.73,313.25 599.77,315 592.4,319.25 589.37,317.5" fill="#b9d5de" /><polygon points="606.69,319 599.33,323.25 599.33,327.75 606.69,323.5" fill="#223d52" /><polygon points="592.4,319.25 599.33,323.25 599.33,327.75 592.4,323.75" fill="#28455c" /><polygon points="599.77,315 606.69,319 599.33,323.25 592.4,319.25" fill="#2e4e66" /><polygon points="609.72,320.75 602.36,325 602.36,329.5 609.72,325.25" fill="#93b8c4" /><polygon points="599.33,323.25 602.36,325 602.36,329.5 599.33,327.75" fill="#a6c6d0" /><polygon points="606.69,319 609.72,320.75 602.36,325 599.33,323.25" fill="#b9d5de" /><polygon points="637.44,315.75 629.21,320.5 629.21,324.5 637.44,319.75" fill="#93b8c4" /><polygon points="626.18,318.75 629.21,320.5 629.21,324.5 626.18,322.75" fill="#a6c6d0" /><polygon points="634.41,314 637.44,315.75 629.21,320.5 626.18,318.75" fill="#b9d5de" /><polygon points="644.37,319.75 636.14,324.5 636.14,328.5 644.37,323.75" fill="#223d52" /><polygon points="629.21,320.5 636.14,324.5 636.14,328.5 629.21,324.5" fill="#28455c" /><polygon points="637.44,315.75 644.37,319.75 636.14,324.5 629.21,320.5" fill="#2e4e66" /><polygon points="647.4,321.5 639.17,326.25 639.17,330.25 647.4,325.5" fill="#93b8c4" /><polygon points="636.14,324.5 639.17,326.25 639.17,330.25 636.14,328.5" fill="#a6c6d0" /><polygon points="644.37,319.75 647.4,321.5 639.17,326.25 636.14,324.5" fill="#b9d5de" /><polygon points="587.21,322.25 579.85,326.5 579.85,331 587.21,326.75" fill="#93b8c4" /><polygon points="576.82,324.75 579.85,326.5 579.85,331 576.82,329.25" fill="#a6c6d0" /><polygon points="584.18,320.5 587.21,322.25 579.85,326.5 576.82,324.75" fill="#b9d5de" /><polygon points="594.14,326.25 586.77,330.5 586.77,335 594.14,330.75" fill="#223d52" /><polygon points="579.85,326.5 586.77,330.5 586.77,335 579.85,331" fill="#28455c" /><polygon points="587.21,322.25 594.14,326.25 586.77,330.5 579.85,326.5" fill="#2e4e66" /><polygon points="597.17,328 589.81,332.25 589.81,336.75 597.17,332.5" fill="#93b8c4" /><polygon points="586.77,330.5 589.81,332.25 589.81,336.75 586.77,335" fill="#a6c6d0" /><polygon points="594.14,326.25 597.17,328 589.81,332.25 586.77,330.5" fill="#b9d5de" /><polygon points="574.65,329.5 567.29,333.75 567.29,338.25 574.65,334" fill="#93b8c4" /><polygon points="564.26,332 567.29,333.75 567.29,338.25 564.26,336.5" fill="#a6c6d0" /><polygon points="571.62,327.75 574.65,329.5 567.29,333.75 564.26,332" fill="#b9d5de" /><polygon points="581.58,333.5 574.22,337.75 574.22,342.25 581.58,338" fill="#223d52" /><polygon points="567.29,333.75 574.22,337.75 574.22,342.25 567.29,338.25" fill="#28455c" /><polygon points="574.65,329.5 581.58,333.5 574.22,337.75 567.29,333.75" fill="#2e4e66" /><polygon points="584.61,335.25 577.25,339.5 577.25,344 584.61,339.75" fill="#93b8c4" /><polygon points="574.22,337.75 577.25,339.5 577.25,344 574.22,342.25" fill="#a6c6d0" /><polygon points="581.58,333.5 584.61,335.25 577.25,339.5 574.22,337.75" fill="#b9d5de" /><polygon points="626.61,340.5 624.01,342 624.01,345 626.61,343.5" fill="#93b8c4" /><polygon points="621.42,340.5 624.01,342 624.01,345 621.42,343.5" fill="#a6c6d0" /><polygon points="624.01,339 626.61,340.5 624.01,342 621.42,340.5" fill="#b9d5de" /><polygon points="626.61,334 618.82,338.5 618.82,343.5 626.61,339" fill="#223d52" /><polygon points="604.96,330.5 618.82,338.5 618.82,343.5 604.96,335.5" fill="#28455c" /><polygon points="612.76,326 626.61,334 618.82,338.5 604.96,330.5" fill="#2e4e66" /><polygon points="532.65,339.25 530.05,340.75 530.05,343.75 532.65,342.25" fill="#93b8c4" /><polygon points="527.45,339.25 530.05,340.75 530.05,343.75 527.45,342.25" fill="#a6c6d0" /><polygon points="530.05,337.75 532.65,339.25 530.05,340.75 527.45,339.25" fill="#b9d5de" /><polygon points="541.31,344.25 538.71,345.75 538.71,348.75 541.31,347.25" fill="#93b8c4" /><polygon points="536.11,344.25 538.71,345.75 538.71,348.75 536.11,347.25" fill="#a6c6d0" /><polygon points="538.71,342.75 541.31,344.25 538.71,345.75 536.11,344.25" fill="#b9d5de" /><polygon points="547.37,335.75 544.77,337.25 544.77,340.25 547.37,338.75" fill="#93b8c4" /><polygon points="542.17,335.75 544.77,337.25 544.77,340.25 542.17,338.75" fill="#a6c6d0" /><polygon points="544.77,334.25 547.37,335.75 544.77,337.25 542.17,335.75" fill="#b9d5de" /><polygon points="551.27,339 543.47,343.5 543.47,347 551.27,342.5" fill="#223d52" /><polygon points="527.02,334 543.47,343.5 543.47,347 527.02,337.5" fill="#28455c" /><polygon points="534.81,329.5 551.27,339 543.47,343.5 527.02,334" fill="#2e4e66" /><polygon points="608.43,351 605.83,352.5 605.83,355.5 608.43,354" fill="#93b8c4" /><polygon points="603.23,351 605.83,352.5 605.83,355.5 603.23,354" fill="#a6c6d0" /><polygon points="605.83,349.5 608.43,351 605.83,352.5 603.23,351" fill="#b9d5de" /><polygon points="608.43,344.5 600.63,349 600.63,354 608.43,349.5" fill="#223d52" /><polygon points="586.77,341 600.63,349 600.63,354 586.77,346" fill="#28455c" /><polygon points="594.57,336.5 608.43,344.5 600.63,349 586.77,341" fill="#2e4e66" /><polygon points="578.11,349.5 571.19,353.5 571.19,358 578.11,354" fill="#93b8c4" /><polygon points="568.16,351.75 571.19,353.5 571.19,358 568.16,356.25" fill="#a6c6d0" /><polygon points="575.08,347.75 578.11,349.5 571.19,353.5 568.16,351.75" fill="#b9d5de" /><polygon points="585.04,353.5 578.11,357.5 578.11,362 585.04,358" fill="#223d52" /><polygon points="571.19,353.5 578.11,357.5 578.11,362 571.19,358" fill="#28455c" /><polygon points="578.11,349.5 585.04,353.5 578.11,357.5 571.19,353.5" fill="#2e4e66" /><polygon points="588.07,355.25 581.15,359.25 581.15,363.75 588.07,359.75" fill="#93b8c4" /><polygon points="578.11,357.5 581.15,359.25 581.15,363.75 578.11,362" fill="#a6c6d0" /><polygon points="585.04,353.5 588.07,355.25 581.15,359.25 578.11,357.5" fill="#b9d5de" /><polygon points="452.71,319.1 461.72,324.3 461.72,327.3 455.66,330.8 450.46,330.8 441.46,325.6 441.46,322.6 447.52,319.1" fill="#213a4d" /><polygon points="452.71,318.1 461.72,323.3 461.72,326.3 455.66,329.8 450.46,329.8 441.46,324.6 441.46,321.6 447.52,318.1" fill="#213a4d" /><polygon points="452.71,317.1 461.72,322.3 461.72,325.3 455.66,328.8 450.46,328.8 441.46,323.6 441.46,320.6 447.52,317.1" fill="#213a4d" /><polygon points="452.71,316.1 461.72,321.3 461.72,324.3 455.66,327.8 450.46,327.8 441.46,322.6 441.46,319.6 447.52,316.1" fill="#213a4d" /><polygon points="452.71,315.1 461.72,320.3 461.72,323.3 455.66,326.8 450.46,326.8 441.46,321.6 441.46,318.6 447.52,315.1" fill="#213a4d" /><polygon points="452.71,314.1 461.72,319.3 461.72,322.3 455.66,325.8 450.46,325.8 441.46,320.6 441.46,317.6 447.52,314.1" fill="#213a4d" /><polygon points="452.71,313.1 461.72,318.3 461.72,321.3 455.66,324.8 450.46,324.8 441.46,319.6 441.46,316.6 447.52,313.1" fill="#213a4d" /><polygon points="452.71,312.1 461.72,317.3 461.72,320.3 455.66,323.8 450.46,323.8 441.46,318.6 441.46,315.6 447.52,312.1" fill="#213a4d" /><polygon points="452.71,311.1 461.72,316.3 461.72,319.3 455.66,322.8 450.46,322.8 441.46,317.6 441.46,314.6 447.52,311.1" fill="#213a4d" /><polygon points="452.71,311.1 461.72,316.3 461.72,319.3 455.66,322.8 450.46,322.8 441.46,317.6 441.46,314.6 447.52,311.1" fill="#2c4b62" /><polygon points="455.05,292.45 451.59,294.45 451.59,318.95 455.05,316.95" fill="#95b8c7" /><polygon points="448.12,292.45 451.59,294.45 451.59,318.95 448.12,316.95" fill="#a6c6d3" /><polygon points="451.59,290.45 455.05,292.45 451.59,294.45 448.12,292.45" fill="#b3d2df" /><ellipse cx="451.59" cy="292.45" rx="3.46" ry="2" fill="#b3d2df"/><polygon points="466.57,327.1 475.58,332.3 475.58,335.3 469.52,338.8 464.32,338.8 455.31,333.6 455.31,330.6 461.37,327.1" fill="#213a4d" /><polygon points="466.57,326.1 475.58,331.3 475.58,334.3 469.52,337.8 464.32,337.8 455.31,332.6 455.31,329.6 461.37,326.1" fill="#213a4d" /><polygon points="466.57,325.1 475.58,330.3 475.58,333.3 469.52,336.8 464.32,336.8 455.31,331.6 455.31,328.6 461.37,325.1" fill="#213a4d" /><polygon points="466.57,324.1 475.58,329.3 475.58,332.3 469.52,335.8 464.32,335.8 455.31,330.6 455.31,327.6 461.37,324.1" fill="#213a4d" /><polygon points="466.57,323.1 475.58,328.3 475.58,331.3 469.52,334.8 464.32,334.8 455.31,329.6 455.31,326.6 461.37,323.1" fill="#213a4d" /><polygon points="466.57,322.1 475.58,327.3 475.58,330.3 469.52,333.8 464.32,333.8 455.31,328.6 455.31,325.6 461.37,322.1" fill="#213a4d" /><polygon points="466.57,321.1 475.58,326.3 475.58,329.3 469.52,332.8 464.32,332.8 455.31,327.6 455.31,324.6 461.37,321.1" fill="#213a4d" /><polygon points="466.57,320.1 475.58,325.3 475.58,328.3 469.52,331.8 464.32,331.8 455.31,326.6 455.31,323.6 461.37,320.1" fill="#213a4d" /><polygon points="466.57,319.1 475.58,324.3 475.58,327.3 469.52,330.8 464.32,330.8 455.31,325.6 455.31,322.6 461.37,319.1" fill="#213a4d" /><polygon points="466.57,319.1 475.58,324.3 475.58,327.3 469.52,330.8 464.32,330.8 455.31,325.6 455.31,322.6 461.37,319.1" fill="#2c4b62" /><polygon points="468.91,300.45 465.44,302.45 465.44,326.95 468.91,324.95" fill="#95b8c7" /><polygon points="461.98,300.45 465.44,302.45 465.44,326.95 461.98,324.95" fill="#a6c6d3" /><polygon points="465.44,298.45 468.91,300.45 465.44,302.45 461.98,300.45" fill="#b3d2df" /><ellipse cx="465.44" cy="300.45" rx="3.46" ry="2" fill="#b3d2df"/><polygon points="480.43,335.1 489.43,340.3 489.43,343.3 483.37,346.8 478.18,346.8 469.17,341.6 469.17,338.6 475.23,335.1" fill="#213a4d" /><polygon points="480.43,334.1 489.43,339.3 489.43,342.3 483.37,345.8 478.18,345.8 469.17,340.6 469.17,337.6 475.23,334.1" fill="#213a4d" /><polygon points="480.43,333.1 489.43,338.3 489.43,341.3 483.37,344.8 478.18,344.8 469.17,339.6 469.17,336.6 475.23,333.1" fill="#213a4d" /><polygon points="480.43,332.1 489.43,337.3 489.43,340.3 483.37,343.8 478.18,343.8 469.17,338.6 469.17,335.6 475.23,332.1" fill="#213a4d" /><polygon points="480.43,331.1 489.43,336.3 489.43,339.3 483.37,342.8 478.18,342.8 469.17,337.6 469.17,334.6 475.23,331.1" fill="#213a4d" /><polygon points="480.43,330.1 489.43,335.3 489.43,338.3 483.37,341.8 478.18,341.8 469.17,336.6 469.17,333.6 475.23,330.1" fill="#213a4d" /><polygon points="480.43,329.1 489.43,334.3 489.43,337.3 483.37,340.8 478.18,340.8 469.17,335.6 469.17,332.6 475.23,329.1" fill="#213a4d" /><polygon points="480.43,328.1 489.43,333.3 489.43,336.3 483.37,339.8 478.18,339.8 469.17,334.6 469.17,331.6 475.23,328.1" fill="#213a4d" /><polygon points="480.43,327.1 489.43,332.3 489.43,335.3 483.37,338.8 478.18,338.8 469.17,333.6 469.17,330.6 475.23,327.1" fill="#213a4d" /><polygon points="480.43,327.1 489.43,332.3 489.43,335.3 483.37,338.8 478.18,338.8 469.17,333.6 469.17,330.6 475.23,327.1" fill="#2c4b62" /><polygon points="482.77,308.45 479.3,310.45 479.3,334.95 482.77,332.95" fill="#95b8c7" /><polygon points="475.84,308.45 479.3,310.45 479.3,334.95 475.84,332.95" fill="#a6c6d3" /><polygon points="479.3,306.45 482.77,308.45 479.3,310.45 475.84,308.45" fill="#b3d2df" /><ellipse cx="479.3" cy="308.45" rx="3.46" ry="2" fill="#b3d2df"/><polygon points="494.28,343.1 503.29,348.3 503.29,351.3 497.23,354.8 492.03,354.8 483.03,349.6 483.03,346.6 489.09,343.1" fill="#213a4d" /><polygon points="494.28,342.1 503.29,347.3 503.29,350.3 497.23,353.8 492.03,353.8 483.03,348.6 483.03,345.6 489.09,342.1" fill="#213a4d" /><polygon points="494.28,341.1 503.29,346.3 503.29,349.3 497.23,352.8 492.03,352.8 483.03,347.6 483.03,344.6 489.09,341.1" fill="#213a4d" /><polygon points="494.28,340.1 503.29,345.3 503.29,348.3 497.23,351.8 492.03,351.8 483.03,346.6 483.03,343.6 489.09,340.1" fill="#213a4d" /><polygon points="494.28,339.1 503.29,344.3 503.29,347.3 497.23,350.8 492.03,350.8 483.03,345.6 483.03,342.6 489.09,339.1" fill="#213a4d" /><polygon points="494.28,338.1 503.29,343.3 503.29,346.3 497.23,349.8 492.03,349.8 483.03,344.6 483.03,341.6 489.09,338.1" fill="#213a4d" /><polygon points="494.28,337.1 503.29,342.3 503.29,345.3 497.23,348.8 492.03,348.8 483.03,343.6 483.03,340.6 489.09,337.1" fill="#213a4d" /><polygon points="494.28,336.1 503.29,341.3 503.29,344.3 497.23,347.8 492.03,347.8 483.03,342.6 483.03,339.6 489.09,336.1" fill="#213a4d" /><polygon points="494.28,335.1 503.29,340.3 503.29,343.3 497.23,346.8 492.03,346.8 483.03,341.6 483.03,338.6 489.09,335.1" fill="#213a4d" /><polygon points="494.28,335.1 503.29,340.3 503.29,343.3 497.23,346.8 492.03,346.8 483.03,341.6 483.03,338.6 489.09,335.1" fill="#2c4b62" /><polygon points="496.62,316.45 493.16,318.45 493.16,342.95 496.62,340.95" fill="#95b8c7" /><polygon points="489.69,316.45 493.16,318.45 493.16,342.95 489.69,340.95" fill="#a6c6d3" /><polygon points="493.16,314.45 496.62,316.45 493.16,318.45 489.69,316.45" fill="#b3d2df" /><ellipse cx="493.16" cy="316.45" rx="3.46" ry="2" fill="#b3d2df"/><polygon points="508.14,351.1 517.15,356.3 517.15,359.3 511.08,362.8 505.89,362.8 496.88,357.6 496.88,354.6 502.94,351.1" fill="#213a4d" /><polygon points="508.14,350.1 517.15,355.3 517.15,358.3 511.08,361.8 505.89,361.8 496.88,356.6 496.88,353.6 502.94,350.1" fill="#213a4d" /><polygon points="508.14,349.1 517.15,354.3 517.15,357.3 511.08,360.8 505.89,360.8 496.88,355.6 496.88,352.6 502.94,349.1" fill="#213a4d" /><polygon points="508.14,348.1 517.15,353.3 517.15,356.3 511.08,359.8 505.89,359.8 496.88,354.6 496.88,351.6 502.94,348.1" fill="#213a4d" /><polygon points="508.14,347.1 517.15,352.3 517.15,355.3 511.08,358.8 505.89,358.8 496.88,353.6 496.88,350.6 502.94,347.1" fill="#213a4d" /><polygon points="508.14,346.1 517.15,351.3 517.15,354.3 511.08,357.8 505.89,357.8 496.88,352.6 496.88,349.6 502.94,346.1" fill="#213a4d" /><polygon points="508.14,345.1 517.15,350.3 517.15,353.3 511.08,356.8 505.89,356.8 496.88,351.6 496.88,348.6 502.94,345.1" fill="#213a4d" /><polygon points="508.14,344.1 517.15,349.3 517.15,352.3 511.08,355.8 505.89,355.8 496.88,350.6 496.88,347.6 502.94,344.1" fill="#213a4d" /><polygon points="508.14,343.1 517.15,348.3 517.15,351.3 511.08,354.8 505.89,354.8 496.88,349.6 496.88,346.6 502.94,343.1" fill="#213a4d" /><polygon points="508.14,343.1 517.15,348.3 517.15,351.3 511.08,354.8 505.89,354.8 496.88,349.6 496.88,346.6 502.94,343.1" fill="#2c4b62" /><polygon points="510.48,324.45 507.01,326.45 507.01,350.95 510.48,348.95" fill="#95b8c7" /><polygon points="503.55,324.45 507.01,326.45 507.01,350.95 503.55,348.95" fill="#a6c6d3" /><polygon points="507.01,322.45 510.48,324.45 507.01,326.45 503.55,324.45" fill="#b3d2df" /><ellipse cx="507.01" cy="324.45" rx="3.46" ry="2" fill="#b3d2df"/><polygon points="522,359.1 531,364.3 531,367.3 524.94,370.8 519.74,370.8 510.74,365.6 510.74,362.6 516.8,359.1" fill="#213a4d" /><polygon points="522,358.1 531,363.3 531,366.3 524.94,369.8 519.74,369.8 510.74,364.6 510.74,361.6 516.8,358.1" fill="#213a4d" /><polygon points="522,357.1 531,362.3 531,365.3 524.94,368.8 519.74,368.8 510.74,363.6 510.74,360.6 516.8,357.1" fill="#213a4d" /><polygon points="522,356.1 531,361.3 531,364.3 524.94,367.8 519.74,367.8 510.74,362.6 510.74,359.6 516.8,356.1" fill="#213a4d" /><polygon points="522,355.1 531,360.3 531,363.3 524.94,366.8 519.74,366.8 510.74,361.6 510.74,358.6 516.8,355.1" fill="#213a4d" /><polygon points="522,354.1 531,359.3 531,362.3 524.94,365.8 519.74,365.8 510.74,360.6 510.74,357.6 516.8,354.1" fill="#213a4d" /><polygon points="522,353.1 531,358.3 531,361.3 524.94,364.8 519.74,364.8 510.74,359.6 510.74,356.6 516.8,353.1" fill="#213a4d" /><polygon points="522,352.1 531,357.3 531,360.3 524.94,363.8 519.74,363.8 510.74,358.6 510.74,355.6 516.8,352.1" fill="#213a4d" /><polygon points="522,351.1 531,356.3 531,359.3 524.94,362.8 519.74,362.8 510.74,357.6 510.74,354.6 516.8,351.1" fill="#213a4d" /><polygon points="522,351.1 531,356.3 531,359.3 524.94,362.8 519.74,362.8 510.74,357.6 510.74,354.6 516.8,351.1" fill="#2c4b62" /><polygon points="524.33,332.45 520.87,334.45 520.87,358.95 524.33,356.95" fill="#95b8c7" /><polygon points="517.41,332.45 520.87,334.45 520.87,358.95 517.41,356.95" fill="#a6c6d3" /><polygon points="520.87,330.45 524.33,332.45 520.87,334.45 517.41,332.45" fill="#b3d2df" /><ellipse cx="520.87" cy="332.45" rx="3.46" ry="2" fill="#b3d2df"/>

<path d="M476,156 L439.5,156 L439.5,298" fill="none" stroke="#4a4a9c" stroke-width="2"/>
<path d="M439.5,277 L439.5,298" fill="none" stroke="#3232b4" stroke-width="2"/>
<circle cx="439.5" cy="298" r="3" fill="#3333c4"/>
<text x="485" y="162" font-family="Liberation Sans" font-weight="bold" font-size="18" letter-spacing="0.09" fill="#4b4f54">Conformal coating layer</text>


<g fill="#d3d4d6">
<polygon points="604,41 611,41 624,61 624,41 631,41 631,71 624,71 611,51 611,71 604,71"/>
<rect x="624" y="41" width="16.5" height="7"/><rect x="624" y="53" width="14" height="5.6"/><rect x="624" y="64" width="16.5" height="7"/>
<rect x="676" y="41" width="21.5" height="7"/><rect x="686" y="53" width="11.5" height="5.6"/><rect x="676" y="64" width="21.5" height="7"/>
<polygon points="691,41 698,41 698,61 710,41 717,41 717,71 710,71 710,51 698,71 691,71"/>
</g>
<polygon points="637.5,41 647,41 652,50 657.5,41 667,41 656.8,56 667,71 657.5,71 652,62 647,71 637.5,71 647.3,56" fill="#22223a"/>
<polygon points="667,41.2 675.5,41.2 682.5,52.8 673,52.8" fill="#2233cc"/>
<polygon points="670,59.4 682.5,59.4 675.5,70.8 666.8,70.8 672.8,62 670,62" fill="#22223a"/>
<circle cx="726" cy="42" r="5.6" fill="none" stroke="#6f7175" stroke-width="1.1"/>
<text x="726.2" y="45.3" text-anchor="middle" font-family="Liberation Sans" font-size="8.5" fill="#6f7175">R</text>

</svg></body></html>
